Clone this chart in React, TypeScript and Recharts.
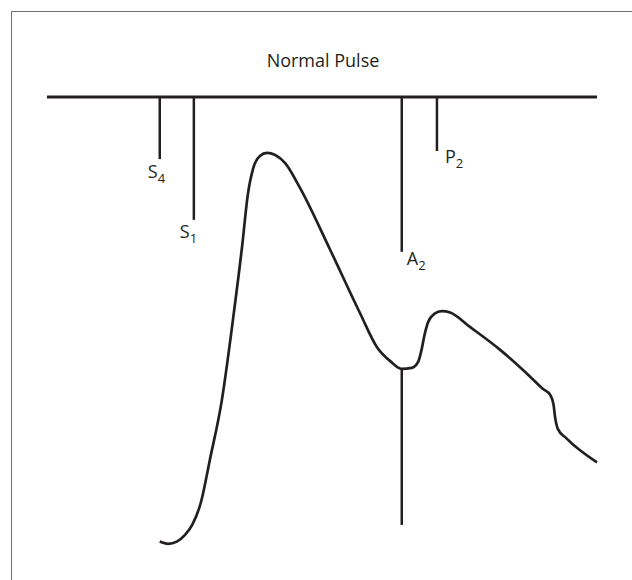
import {
  ComposedChart,
  Line,
  ReferenceLine,
  XAxis,
  YAxis,
} from "recharts";

// pulse wave, time (0-100) vs pressure (0-100)
const pulseTime = [
  20.5, 22.0, 23.6, 25.1, 26.4, 28.0, 29.6, 31.8, 33.8, 35.5, 36.5, 37.5,
  38.7, 40.0, 41.5, 43.3, 46.0, 51.5, 56.9, 60.0, 62.4, 64.5, 66.3, 67.5,
  68.1, 68.6, 69.3, 70.4, 71.8, 73.3, 76.9, 82.4, 87.8, 90.2, 91.5, 92.1,
  92.4, 92.9, 94.4, 100,
];
const pulsePressure = [
  1.2, 0.7, 1.2, 2.7, 4.9, 10.0, 19.3, 32.7, 50.4, 67.1, 78.2, 84.2,
  86.9, 87.6, 87.1, 85.3, 79.8, 66.0, 52.0, 44.4, 41.3, 39.6, 39.8, 41.2,
  43.8, 46.9, 50.0, 51.8, 52.4, 52.1, 48.9, 43.8, 37.9, 35.1, 33.8, 31.6,
  28.7, 26.2, 24.2, 18.8,
];

// heart sound markers hanging from the baseline
const markerNames = ["S", "S", "A", "P"];
const markerSubs = ["4", "1", "2", "2"];
const markerTimes = [20.5, 26.7, 64.5, 70.9];
const markerEnds = [86.2, 72.7, 65.6, 88.0];

// the A2 drop line below the dicrotic notch
const notchTime = 64.5;
const notchTop = 39.6;
const notchBottom = 4.9;

const data = pulseTime.map((t, i) => ({ t, p: pulsePressure[i] }));

const INK = "#231f20";
const FONT = "'Open Sans', 'Noto Sans', sans-serif";

// label offsets (px) relative to the lower end of each marker line
const labelOffsets = [
  { dx: -12, dy: 19 },
  { dx: -14, dy: 18 },
  { dx: 5, dy: 13 },
  { dx: 8, dy: 12 },
];

function MarkLabel(props: any) {
  const { viewBox, main, sub, dx, dy } = props;
  if (!viewBox) return null;
  const x = viewBox.x + dx;
  const y = viewBox.y + viewBox.height + dy;
  return (
    <text x={x} y={y} fill={INK} fontFamily={FONT} fontSize={18}>
      {main}
      <tspan fontSize={13} dy={5} fill={INK}>
        {sub}
      </tspan>
    </text>
  );
}

export default function App() {
  return (
    <div
      style={{
        position: "absolute",
        left: 0,
        top: 0,
        width: 632,
        height: 580,
        overflow: "hidden",
        background: "#fff",
      }}
    >
      <div
        style={{
          position: "absolute",
          left: 11,
          top: 11,
          width: 660,
          height: 620,
          borderTop: "1.5px solid #6d6e71",
          borderLeft: "1.5px solid #6d6e71",
        }}
      />
      <div
        style={{
          position: "absolute",
          left: 0,
          top: 51,
          width: 646,
          textAlign: "center",
          fontFamily: FONT,
          fontSize: 18,
          lineHeight: "18px",
          color: INK,
        }}
      >
        Normal Pulse
      </div>
      <div style={{ position: "absolute", left: 0, top: 0 }}>
        <ComposedChart
          width={632}
          height={580}
          data={data}
          margin={{ top: 97, right: 35, bottom: 33, left: 47 }}
        >
          <XAxis dataKey="t" type="number" domain={[0, 100]} hide />
          <YAxis type="number" domain={[0, 100]} hide />
          <ReferenceLine y={100} stroke={INK} strokeWidth={3} />
          {markerTimes.map((t, i) => (
            <ReferenceLine
              key={i}
              segment={[
                { x: t, y: 100 },
                { x: t, y: markerEnds[i] },
              ]}
              stroke={INK}
              strokeWidth={2.5}
              label={
                <MarkLabel
                  main={markerNames[i]}
                  sub={markerSubs[i]}
                  dx={labelOffsets[i].dx}
                  dy={labelOffsets[i].dy}
                />
              }
            />
          ))}
          <ReferenceLine
            segment={[
              { x: notchTime, y: notchTop },
              { x: notchTime, y: notchBottom },
            ]}
            stroke={INK}
            strokeWidth={2.5}
          />
          <Line
            type="monotone"
            dataKey="p"
            stroke={INK}
            strokeWidth={2.7}
            dot={false}
            activeDot={false}
            isAnimationActive={false}
          />
        </ComposedChart>
      </div>
    </div>
  );
}
